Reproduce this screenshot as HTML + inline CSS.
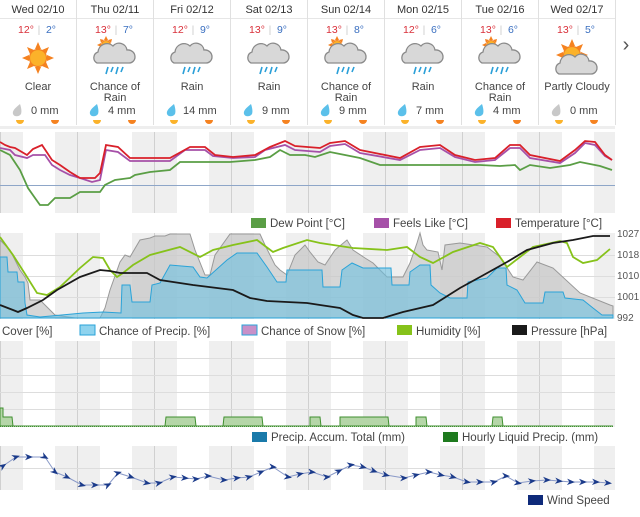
<!DOCTYPE html>
<html><head><meta charset="utf-8"><style>
body{margin:0;background:#fff;width:640px;height:512px;overflow:hidden;font-family:"Liberation Sans",sans-serif}
svg text{font-family:"Liberation Sans",sans-serif}
</style></head><body>
<svg width="640" height="512" viewBox="0 0 640 512" xmlns="http://www.w3.org/2000/svg">
<defs>
<pattern id="bands" patternUnits="userSpaceOnUse" width="77" height="600" x="0" y="0">
<rect x="0" y="0" width="77" height="600" fill="#fff"/>
<rect x="0" y="0" width="23" height="600" fill="#efefef"/>
<rect x="55" y="0" width="22" height="600" fill="#efefef"/>
<line x1="0.5" y1="0" x2="0.5" y2="600" stroke="#d0d0d0"/>
</pattern>
<g id="sun"><g fill="#f58220"><polygon points="0,-16 3,-9 -3,-9"/><polygon points="0,16 3,9 -3,9"/><polygon points="-16,0 -9,3 -9,-3"/><polygon points="16,0 9,3 9,-3"/><polygon points="11,-11 4,-8 8,-4"/><polygon points="-11,-11 -4,-8 -8,-4"/><polygon points="11,11 4,8 8,4"/><polygon points="-11,11 -4,8 -8,4"/></g><circle r="8.5" fill="#fbb22a" stroke="#f58220" stroke-width="1.2"/></g>
<g id="cloud"><path d="M-19,8 a6,6 0 0 1 1,-11 a9,9 0 0 1 15,-6 a8,8 0 0 1 14,4 a7,7 0 0 1 8,7 a6,6 0 0 1 -6,6 z" fill="#d8d8d8" stroke="#8a8a8a" stroke-width="1.3"/></g>
<g id="rain" stroke="#2a9fd8" stroke-width="1.6"><line x1="-8" y1="12" x2="-10" y2="19"/><line x1="-3" y1="12" x2="-5" y2="17"/><line x1="2" y1="12" x2="0" y2="19"/><line x1="7" y1="12" x2="5" y2="17"/></g>
<g id="smallsun"><g fill="#f58220"><polygon points="0,-9 2,-5 -2,-5"/><polygon points="-9,0 -5,2 -5,-2"/><polygon points="6,-6 2,-5 5,-2"/><polygon points="-6,-6 -2,-5 -5,-2"/><polygon points="-6,6 -2,5 -5,2"/></g><circle r="4.5" fill="#fbb22a" stroke="#f58220"/></g>
<g id="drop"><path d="M3,-6 C-2,-2 -5,1 -4,4 C-3,7 2,7 4,4 C5,1 4,-3 3,-6z" fill="#5bc0ea"/></g>
<g id="gdrop"><path d="M3,-6 C-2,-2 -5,1 -4,4 C-3,7 2,7 4,4 C5,1 4,-3 3,-6z" fill="#c8c8c8"/></g>
<g id="sr"><path d="M-4,0 a4,4 0 0 0 8,0z" fill="#fbb22a"/></g>
<g id="ss"><path d="M-4,0 a4,4 0 0 0 8,0z" fill="#f58220"/></g>
<marker id="arr" viewBox="-5 -5 10 10" markerWidth="8" markerHeight="8" orient="auto" markerUnits="userSpaceOnUse"><path d="M5,0 L-5,-4 L-2,0 L-5,4z" fill="#1a3a8a"/></marker>
</defs>

<g font-size="11" text-anchor="middle">
<line x1="0" y1="18.5" x2="615" y2="18.5" stroke="#e6e6e6"/>
<g stroke="#e0e0e0"><line x1="76.5" y1="0" x2="76.5" y2="125"/><line x1="153.5" y1="0" x2="153.5" y2="125"/><line x1="230.5" y1="0" x2="230.5" y2="125"/><line x1="307.5" y1="0" x2="307.5" y2="125"/><line x1="384.5" y1="0" x2="384.5" y2="125"/><line x1="461.5" y1="0" x2="461.5" y2="125"/><line x1="538.5" y1="0" x2="538.5" y2="125"/><line x1="615.5" y1="0" x2="615.5" y2="125"/></g>
<rect x="0" y="126" width="615" height="3" fill="#eeeeee"/>
<g fill="#333"><text x="38" y="13">Wed 02/10</text><text x="115" y="13">Thu 02/11</text><text x="192" y="13">Fri 02/12</text><text x="269" y="13">Sat 02/13</text><text x="346" y="13">Sun 02/14</text><text x="423" y="13">Mon 02/15</text><text x="500" y="13">Tue 02/16</text><text x="577" y="13">Wed 02/17</text></g>
<g font-size="10.5">
<text x="26" y="33" fill="#d9303a">12°</text><text x="39" y="33" fill="#ccc">|</text><text x="51" y="33" fill="#3a6fc0">2°</text>
<text x="103" y="33" fill="#d9303a">13°</text><text x="116" y="33" fill="#ccc">|</text><text x="128" y="33" fill="#3a6fc0">7°</text>
<text x="180" y="33" fill="#d9303a">12°</text><text x="193" y="33" fill="#ccc">|</text><text x="205" y="33" fill="#3a6fc0">9°</text>
<text x="257" y="33" fill="#d9303a">13°</text><text x="270" y="33" fill="#ccc">|</text><text x="282" y="33" fill="#3a6fc0">9°</text>
<text x="334" y="33" fill="#d9303a">13°</text><text x="347" y="33" fill="#ccc">|</text><text x="359" y="33" fill="#3a6fc0">8°</text>
<text x="411" y="33" fill="#d9303a">12°</text><text x="424" y="33" fill="#ccc">|</text><text x="436" y="33" fill="#3a6fc0">6°</text>
<text x="488" y="33" fill="#d9303a">13°</text><text x="501" y="33" fill="#ccc">|</text><text x="513" y="33" fill="#3a6fc0">6°</text>
<text x="565" y="33" fill="#d9303a">13°</text><text x="578" y="33" fill="#ccc">|</text><text x="590" y="33" fill="#3a6fc0">5°</text>
</g>
<use href="#sun" x="38" y="58"/>
<use href="#smallsun" x="106" y="45"/><use href="#cloud" x="116" y="55"/><use href="#rain" x="116" y="55"/>
<use href="#cloud" x="193" y="55"/><use href="#rain" x="193" y="55"/>
<use href="#cloud" x="270" y="55"/><use href="#rain" x="270" y="55"/>
<use href="#smallsun" x="337" y="45"/><use href="#cloud" x="347" y="55"/><use href="#rain" x="347" y="55"/>
<use href="#cloud" x="424" y="55"/><use href="#rain" x="424" y="55"/>
<use href="#smallsun" x="491" y="45"/><use href="#cloud" x="501" y="55"/><use href="#rain" x="501" y="55"/>
<g transform="translate(572 55)"><use href="#sun"/></g><use href="#cloud" x="578" y="66"/>
<g fill="#444"><text x="38" y="90">Clear</text><text x="115" y="90">Chance of</text><text x="115" y="101">Rain</text><text x="192" y="90">Rain</text><text x="269" y="90">Rain</text><text x="346" y="90">Chance of</text><text x="346" y="101">Rain</text><text x="423" y="90">Rain</text><text x="500" y="90">Chance of</text><text x="500" y="101">Rain</text><text x="577" y="90">Partly Cloudy</text></g>
<use href="#gdrop" x="17" y="110"/><use href="#drop" x="94" y="110"/><use href="#drop" x="171" y="110"/><use href="#drop" x="248" y="110"/><use href="#drop" x="325" y="110"/><use href="#drop" x="402" y="110"/><use href="#drop" x="479" y="110"/><use href="#gdrop" x="556" y="110"/>
<g fill="#444" text-anchor="start"><text x="31" y="114">0 mm</text><text x="108" y="114">4 mm</text><text x="183" y="114">14 mm</text><text x="262" y="114">9 mm</text><text x="339" y="114">9 mm</text><text x="416" y="114">7 mm</text><text x="493" y="114">4 mm</text><text x="570" y="114">0 mm</text></g>
<g><use href="#sr" x="20" y="120"/><use href="#ss" x="55" y="120"/><use href="#sr" x="97" y="120"/><use href="#ss" x="132" y="120"/><use href="#sr" x="174" y="120"/><use href="#ss" x="209" y="120"/><use href="#sr" x="251" y="120"/><use href="#ss" x="286" y="120"/><use href="#sr" x="328" y="120"/><use href="#ss" x="363" y="120"/><use href="#sr" x="405" y="120"/><use href="#ss" x="440" y="120"/><use href="#sr" x="482" y="120"/><use href="#ss" x="517" y="120"/><use href="#sr" x="559" y="120"/><use href="#ss" x="594" y="120"/></g>
<text x="626" y="51" font-size="20" fill="#555">›</text>
</g>

<rect x="0" y="132" width="615" height="81" fill="url(#bands)"/>
<line x1="0" y1="185.5" x2="615" y2="185.5" stroke="#8ea6c8"/>
<polyline fill="none" stroke="#5a9e45" stroke-width="1.8" points="0,150 10,155 20,170 28,188 35,198 40,205 48,205 55,198 70,198 80,192 100,192 105,185 115,180 130,178 135,175 150,172 170,170 180,162 200,162 230,162 255,160 270,157 280,150 290,155 305,155 315,157 330,152 345,155 360,158 380,165 420,165 460,165 480,165 500,166 515,165 520,170 530,165 550,168 570,165 580,162 600,166 612,170"/>
<polyline fill="none" stroke="#a650a8" stroke-width="1.8" points="0,148 10,150 15,155 27,158 33,155 45,155 52,165 60,170 70,175 80,178 92,182 100,180 106,150 118,152 130,161 170,161 185,150 205,150 213,156 233,158 255,157 265,150 285,145 295,150 320,152 330,146 345,144 360,153 400,160 420,150 440,148 455,157 475,162 495,160 510,148 520,148 530,158 560,163 575,153 585,143 595,145 605,156 612,160"/>
<polyline fill="none" stroke="#d9202a" stroke-width="1.8" points="0,142 5,145 10,147 15,148 27,155 33,149 42,145 52,160 60,165 70,172 80,178 95,178 100,173 106,145 118,147 130,158 170,158 190,147 205,147 215,155 233,157 255,155 270,147 285,141 295,146 320,148 330,143 345,141 360,150 370,152 400,158 420,147 440,145 455,155 475,160 495,158 510,145 520,145 530,155 560,161 575,150 585,141 595,142 605,155 612,160"/>
<g font-size="11.5" fill="#444">
<rect x="251" y="218" width="15" height="10" fill="#5a9e45"/><text x="270" y="227">Dew Point [°C]</text>
<rect x="374" y="218" width="15" height="10" fill="#a650a8"/><text x="393" y="227">Feels Like [°C]</text>
<rect x="496" y="218" width="15" height="10" fill="#d9202a"/><text x="515" y="227">Temperature [°C]</text>
</g>

<rect x="0" y="233" width="615" height="86" fill="url(#bands)"/>
<g stroke="#ddd"><line x1="0" y1="255.5" x2="615" y2="255.5"/><line x1="0" y1="276.5" x2="615" y2="276.5"/><line x1="0" y1="297.5" x2="615" y2="297.5"/></g>
<polygon fill="#c8c8c8" fill-opacity="0.75" stroke="#999" points="0,318 0,240 10,250 20,270 25,277 28,283 30,300 40,300 55,315 75,318 100,318 105,308 110,290 120,262 125,255 130,257 140,240 150,238 155,236 165,236 170,234 190,234 195,250 205,275 210,275 215,255 230,234 260,234 265,245 275,265 280,270 287,275 295,255 305,245 310,252 318,262 325,265 335,250 347,240 353,250 365,258 373,263 387,277 403,277 410,263 417,243 420,233 423,245 427,250 438,252 442,270 445,245 460,243 487,247 500,257 513,277 523,280 537,262 553,268 580,293 610,305 613,306 613,318"/>
<polygon fill="#6cc0e0" fill-opacity="0.6" stroke="#2aa3d8" points="0,318 0,257 7,257 8,272 17,272 18,282 24,282 25,303 27,315 40,317 83,313 103,312 121,313 122,285 130,285 132,302 150,302 152,285 160,283 170,265 193,267 200,277 207,278 227,260 237,253 257,253 267,267 277,282 286,282 287,270 322,270 323,287 340,287 342,270 352,263 363,268 391,268 392,285 409,285 410,272 420,265 430,265 431,285 440,293 450,298 467,298 468,282 487,278 497,268 506,268 507,285 517,290 525,303 543,303 545,292 563,292 565,298 583,300 593,308 602,315 613,315 613,318"/>
<polyline fill="none" stroke="#86c21a" stroke-width="1.8" points="0,237 13,255 27,277 37,293 47,295 60,287 80,268 93,257 103,258 110,270 117,277 123,273 133,265 150,255 180,247 200,257 213,250 233,245 257,240 273,252 283,248 307,240 320,243 353,248 387,250 407,247 420,257 433,263 453,252 480,243 493,247 507,267 520,257 533,247 560,241 567,243 573,257 583,263 597,260 610,249"/>
<polyline fill="none" stroke="#1a1a1a" stroke-width="1.8" points="0,305 13,310 18,312 27,308 43,300 57,290 80,277 100,270 110,271 120,273 147,273 160,280 193,285 233,290 250,298 267,301 307,303 320,305 340,308 353,315 363,318 383,318 403,312 433,305 460,288 480,277 507,262 527,250 553,243 573,240 593,236 610,236"/>
<g font-size="10" fill="#555"><text x="617" y="237">1027</text><text x="617" y="258">1018</text><text x="617" y="279">1010</text><text x="617" y="300">1001</text><text x="617" y="321">992</text></g>
<g font-size="11.5" fill="#444">
<text x="2" y="335">Cover [%]</text>
<rect x="80" y="325" width="15" height="10" fill="#8fd3ee" stroke="#2aa3d8"/><text x="99" y="335">Chance of Precip. [%]</text>
<rect x="242" y="325" width="15" height="10" fill="#c890c8" stroke="#2aa3d8"/><text x="261" y="335">Chance of Snow [%]</text>
<rect x="397" y="325" width="15" height="10" fill="#86c21a"/><text x="416" y="335">Humidity [%]</text>
<rect x="512" y="325" width="15" height="10" fill="#1a1a1a"/><text x="531" y="335">Pressure [hPa]</text>
</g>

<rect x="0" y="341" width="615" height="86" fill="url(#bands)"/>
<g stroke="#ddd"><line x1="0" y1="358.5" x2="615" y2="358.5"/><line x1="0" y1="375.5" x2="615" y2="375.5"/><line x1="0" y1="392.5" x2="615" y2="392.5"/><line x1="0" y1="409.5" x2="615" y2="409.5"/></g>
<polygon fill="#b5d6a8" stroke="#3f8f2f" stroke-width="1" points="0,426 0,408 3,408 3,417 12,417 13,426 165,426 166,417 195,417 196,426 223,426 224,417 262,417 263,426 310,426 310,417 320,417 321,426 340,426 340,417 388,417 389,426 416,426 416,417 426,417 427,426 492,426 493,417 502,417 503,426 613,426"/>
<line x1="0" y1="426.5" x2="613" y2="426.5" stroke="#3f8f2f" stroke-dasharray="1 1"/>
<g font-size="11.5" fill="#444">
<rect x="252" y="432" width="15" height="10" fill="#1a7aaa"/><text x="271" y="441">Precip. Accum. Total (mm)</text>
<rect x="443" y="432" width="15" height="10" fill="#1e7a1e"/><text x="462" y="441">Hourly Liquid Precip. (mm)</text>
</g>

<rect x="0" y="446" width="615" height="44" fill="url(#bands)"/>
<line x1="0" y1="468.5" x2="615" y2="468.5" stroke="#ddd"/>
<polyline fill="none" stroke="#8a9ac8" stroke-width="1" marker-start="url(#arr)" marker-mid="url(#arr)" marker-end="url(#arr)" points="3,466 16,457 29,457 45,457 55,472 67,477 82,485 95,485 108,485 118,473 131,477 147,483 159,483 173,477 185,478 196,479 208,476 224,480 237,478 249,477 261,472 273,467 288,477 300,474 312,472 327,477 339,471 351,465 363,467 374,471 386,475 404,478 416,475 429,472 441,475 453,477 467,482 480,482 494,482 506,476 518,483 532,481 547,480 559,481 571,482 583,482 596,482 608,483"/>
<rect x="528" y="495" width="15" height="10" fill="#0e2a7a"/><text x="547" y="504" font-size="11.5" fill="#444">Wind Speed</text>
</svg>
</body></html>
